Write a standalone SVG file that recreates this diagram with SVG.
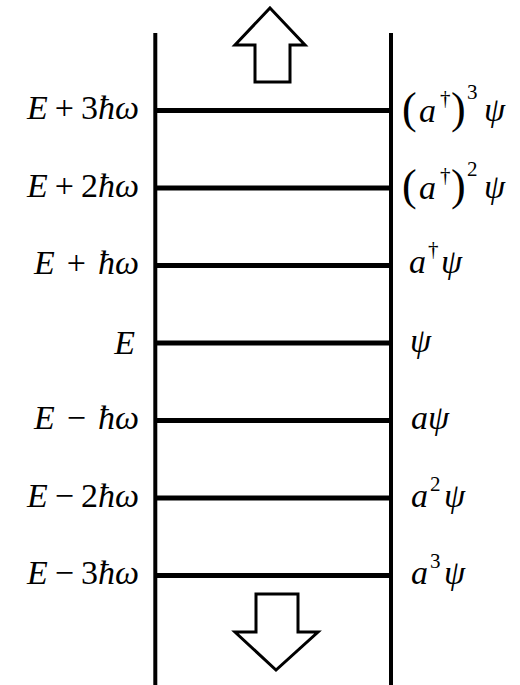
<svg xmlns="http://www.w3.org/2000/svg" width="520" height="685" viewBox="0 0 520 685">
<style>
.t{font-family:'Liberation Serif',serif;font-size:34px;fill:#000}
.i{font-style:italic}
.sup{font-size:21px}
.big{font-family:'Liberation Serif',serif;font-size:44px;fill:#000}
.rail{stroke:#000;stroke-width:4;fill:none}
.rung{stroke:#000;stroke-width:5;fill:none}
.arrow{fill:#fff;stroke:#000;stroke-width:3;stroke-linejoin:miter}
</style>
<rect width="520" height="685" fill="#fff"/>
<g id="ladder">
<line class="rail" x1="155.3" y1="33" x2="155.3" y2="685"/>
<line class="rail" x1="391" y1="33" x2="391" y2="685"/>
</g>
<g id="connectors">
<line class="rung" x1="155" y1="110.5" x2="391" y2="110.5"/>
<line class="rung" x1="155" y1="188" x2="391" y2="188"/>
<line class="rung" x1="155" y1="265.5" x2="391" y2="265.5"/>
<line class="rung" x1="155" y1="343" x2="391" y2="343"/>
<line class="rung" x1="155" y1="420.5" x2="391" y2="420.5"/>
<line class="rung" x1="155" y1="498" x2="391" y2="498"/>
<line class="rung" x1="155" y1="575.5" x2="391" y2="575.5"/>
</g>
<g id="arrow-up"><polygon class="arrow" points="270,8 305,45 290,45 290,82 255,82 255,45 235,45"/></g>
<g id="arrow-down"><polygon class="arrow" points="256,594 298,594 298,632 318,632 276,670 235,632 256,632"/></g>
<g id="level-p3">
<text class="t" x="139" y="119" text-anchor="end"><tspan class="i">E</tspan><tspan dx="7">+</tspan><tspan dx="7">3</tspan><tspan class="i">ħω</tspan></text>
<text class="big" x="402" y="123">(</text>
<text class="t i" x="419" y="122">a</text>
<text class="t sup" x="440" y="105">†</text>
<text class="big" x="451" y="123">)</text>
<text class="t sup" x="467" y="99">3</text>
<text class="t i" x="484" y="121">ψ</text>
</g>
<g id="level-p2">
<text class="t" x="139" y="197" text-anchor="end"><tspan class="i">E</tspan><tspan dx="7">+</tspan><tspan dx="7">2</tspan><tspan class="i">ħω</tspan></text>
<text class="big" x="402" y="200">(</text>
<text class="t i" x="419" y="199">a</text>
<text class="t sup" x="440" y="182">†</text>
<text class="big" x="451" y="200">)</text>
<text class="t sup" x="467" y="176">2</text>
<text class="t i" x="484" y="198">ψ</text>
</g>
<g id="level-p1">
<text class="t" x="139" y="274" text-anchor="end"><tspan class="i">E</tspan><tspan dx="12">+</tspan><tspan dx="12" class="i">ħω</tspan></text>
<text class="t i" x="409" y="273">a</text>
<text class="t sup" x="428" y="256">†</text>
<text class="t i" x="441" y="273">ψ</text>
</g>
<g id="level-0">
<text class="t i" x="135" y="354" text-anchor="end">E</text>
<text class="t i" x="410" y="352">ψ</text>
</g>
<g id="level-m1">
<text class="t" x="139" y="429" text-anchor="end"><tspan class="i">E</tspan><tspan dx="12">−</tspan><tspan dx="12" class="i">ħω</tspan></text>
<text class="t i" x="411" y="429">aψ</text>
</g>
<g id="level-m2">
<text class="t" x="139" y="507" text-anchor="end"><tspan class="i">E</tspan><tspan dx="7">−</tspan><tspan dx="7">2</tspan><tspan class="i">ħω</tspan></text>
<text class="t i" x="411" y="507">a</text>
<text class="t sup" x="430" y="491">2</text>
<text class="t i" x="444" y="507">ψ</text>
</g>
<g id="level-m3">
<text class="t" x="139" y="584" text-anchor="end"><tspan class="i">E</tspan><tspan dx="7">−</tspan><tspan dx="7">3</tspan><tspan class="i">ħω</tspan></text>
<text class="t i" x="411" y="584">a</text>
<text class="t sup" x="430" y="568">3</text>
<text class="t i" x="444" y="584">ψ</text>
</g>
</svg>
